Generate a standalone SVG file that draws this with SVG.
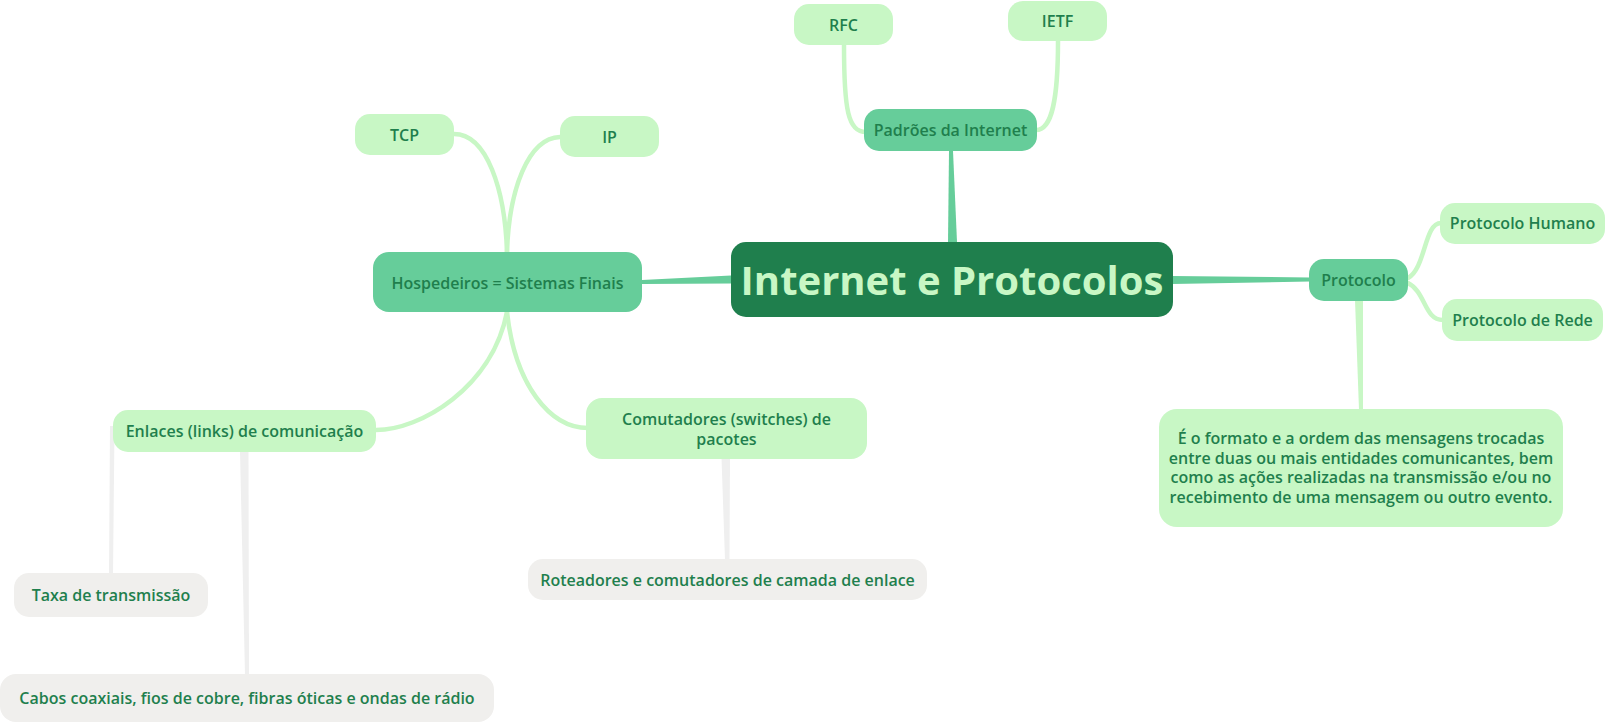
<svg xmlns="http://www.w3.org/2000/svg" width="1606" height="723" viewBox="0 0 1606 723">
<style>
  .t { font-family: "Open Sans", "Noto Sans", "Liberation Sans", sans-serif; font-size: 16px; font-weight: 600; fill: #1F7F4D; text-anchor: middle; }
  .root { font-family: "Open Sans", "Noto Sans", "Liberation Sans", sans-serif; font-size: 40px; font-weight: 700; fill: #C8F7C5; text-anchor: middle; }
  .n0 { fill: #1F7F4D; }
  .n1 { fill: #66CD9A; }
  .n2 { fill: #C8F7C5; }
  .n3 { fill: #F0EFED; }
  .cg { fill: none; stroke: #C8F7C5; stroke-width: 4.5; stroke-linecap: round; }
</style>
<rect width="1606" height="723" fill="#FFFFFF"/>
<g id="connectors">
  <polygon points="949,151 953,151 957,242 948,242" fill="#66CD9A"/>
  <polygon points="642,280 731,275.5 731,283.5 642,284" fill="#66CD9A"/>
  <polygon points="1172,276 1310,277.5 1310,281.5 1172,284" fill="#66CD9A"/>
  <path class="cg" d="M 844,45 C 844,110 848,132 866,132"/>
  <path class="cg" d="M 1058,41 C 1058,100 1052,130 1036,130"/>
  <path class="cg" d="M 454,134 C 487,134 505,190 507,252"/>
  <path class="cg" d="M 560,137 C 528,138 509,190 507,252"/>
  <path class="cg" d="M 507,312 C 492,388 420,430 376,430"/>
  <path class="cg" d="M 507,312 C 515,385 550,428 588,428"/>
  <path class="cg" d="M 1408,278 C 1426,268 1424,223 1441,223"/>
  <path class="cg" d="M 1408,283 C 1426,292 1424,320 1443,320"/>
  <polygon points="1355,300 1363,300 1363,410 1359,410" fill="#C8F7C5"/>
  <polygon points="721.5,458 730,458 729.5,560 725,560" fill="#EFEFEF"/>
  <polygon points="110,426 114.5,426 113,574 109,574" fill="#EFEFEF"/>
  <polygon points="240,451 248.5,451 249,675 245,675" fill="#EFEFEF"/>
</g>
<g id="root">
  <rect class="n0" x="731" y="242" width="442" height="75" rx="15"/>
  <text class="root" x="952" y="295">Internet e Protocolos</text>
</g>
<g id="padroes">
  <rect class="n1" x="864" y="109" width="173" height="42" rx="15"/>
  <text class="t" x="950.5" y="136">Padrões da Internet</text>
</g>
<g id="rfc">
  <rect class="n2" x="794" y="4" width="99" height="41" rx="15"/>
  <text class="t" x="843.5" y="30.5">RFC</text>
</g>
<g id="ietf">
  <rect class="n2" x="1008" y="1" width="99" height="40" rx="15"/>
  <text class="t" x="1057.5" y="27">IETF</text>
</g>
<g id="hospedeiros">
  <rect class="n1" x="373" y="252" width="269" height="60" rx="16"/>
  <text class="t" x="507.5" y="288.5">Hospedeiros = Sistemas Finais</text>
</g>
<g id="tcp">
  <rect class="n2" x="355" y="114" width="99" height="41" rx="15"/>
  <text class="t" x="404.5" y="140.5">TCP</text>
</g>
<g id="ip">
  <rect class="n2" x="560" y="116" width="99" height="41" rx="15"/>
  <text class="t" x="609.5" y="142.5">IP</text>
</g>
<g id="enlaces">
  <rect class="n2" x="113" y="410" width="263" height="42" rx="15"/>
  <text class="t" x="244.5" y="437">Enlaces (links) de comunicação</text>
</g>
<g id="taxa">
  <rect class="n3" x="14" y="573" width="194" height="44" rx="15"/>
  <text class="t" x="111" y="601">Taxa de transmissão</text>
</g>
<g id="cabos">
  <rect class="n3" x="0" y="674" width="494" height="48" rx="16"/>
  <text class="t" x="247" y="704">Cabos coaxiais, fios de cobre, fibras óticas e ondas de rádio</text>
</g>
<g id="comutadores">
  <rect class="n2" x="586" y="398" width="281" height="61" rx="16"/>
  <text class="t" x="726.5" y="425">Comutadores (switches) de</text>
  <text class="t" x="726.5" y="444.5">pacotes</text>
</g>
<g id="roteadores">
  <rect class="n3" x="528" y="559" width="399" height="41" rx="15"/>
  <text class="t" x="727.5" y="585.5">Roteadores e comutadores de camada de enlace</text>
</g>
<g id="protocolo">
  <rect class="n1" x="1309" y="259" width="99" height="42" rx="15"/>
  <text class="t" x="1358.5" y="286">Protocolo</text>
</g>
<g id="humano">
  <rect class="n2" x="1440" y="203" width="165" height="41" rx="15"/>
  <text class="t" x="1522.5" y="229">Protocolo Humano</text>
</g>
<g id="rede">
  <rect class="n2" x="1442" y="299" width="161" height="42" rx="15"/>
  <text class="t" x="1522.5" y="326">Protocolo de Rede</text>
</g>
<g id="descricao">
  <rect class="n2" x="1159" y="409" width="404" height="118" rx="18"/>
  <text class="t" x="1361" y="444">É o formato e a ordem das mensagens trocadas</text>
  <text class="t" x="1361" y="463.5">entre duas ou mais entidades comunicantes, bem</text>
  <text class="t" x="1361" y="483">como as ações realizadas na transmissão e/ou no</text>
  <text class="t" x="1361" y="502.5">recebimento de uma mensagem ou outro evento.</text>
</g>
</svg>
